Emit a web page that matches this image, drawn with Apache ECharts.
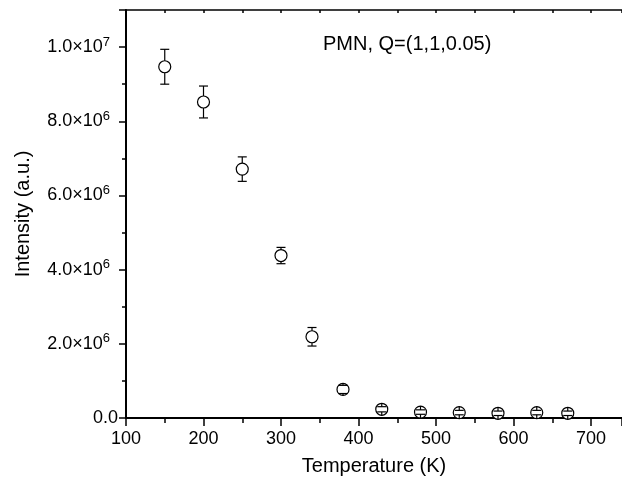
<!DOCTYPE html>
<html>
<head>
<meta charset="utf-8">
<script src="https://cdn.jsdelivr.net/npm/echarts@6/dist/echarts.min.js"></script>
<style>
html,body{margin:0;padding:0;background:#fff;}
#c{width:622px;height:481px;}
</style>
</head>
<body>
<div id="c"></div>
<script>
var temperatures = [150, 200, 250, 300, 340, 380, 430, 480, 530, 580, 630, 670];
var intensities = [9.47e6, 8.52e6, 6.71e6, 4.38e6, 2.19e6, 0.77e6, 0.235e6, 0.16e6, 0.146e6, 0.127e6, 0.146e6, 0.127e6];
var errors = [0.47e6, 0.43e6, 0.33e6, 0.22e6, 0.25e6, 0.11e6, 0.07e6, 0.06e6, 0.06e6, 0.06e6, 0.06e6, 0.06e6];
var titleText = 'PMN, Q=(1,1,0.05)';
var xName = 'Temperature (K)';
var yName = 'Intensity (a.u.)';

var FONT = 'Liberation Sans, Arial, sans-serif';
var R = 6;

var pts = temperatures.map(function (t, i) { return [t, intensities[i], errors[i]]; });

var chart = echarts.init(document.getElementById('c'), null, {renderer: 'canvas'});

function yFmt(v) {
  if (v === 0) return '{b|0.0}';
  var e = Math.floor(Math.log10(v) + 1e-9);
  var m = v / Math.pow(10, e);
  return '{b|' + m.toFixed(1) + '×10}{e|' + e + '}';
}

chart.setOption({
  animation: false,
  backgroundColor: '#fff',
  title: {
    text: titleText,
    left: 318,
    top: 29,
    textStyle: {fontFamily: FONT, fontSize: 20, fontWeight: 'normal', color: '#000'}
  },
  grid: {left: 126, top: 10, right: 0, bottom: 63, containLabel: false, outerBoundsMode: 'none'},
  xAxis: [{
    type: 'value', min: 100, max: 740, interval: 100,
    position: 'bottom',
    name: xName, nameLocation: 'middle', nameGap: 38,
    nameTextStyle: {fontFamily: FONT, fontSize: 20, color: '#000'},
    axisLine: {show: true, onZero: false, lineStyle: {color: '#000', width: 2}},
    axisTick: {show: true, inside: false, length: 8, lineStyle: {color: '#000', width: 1.5}},
    minorTick: {show: true, splitNumber: 2, length: 5, lineStyle: {color: '#000', width: 1.5}},
    axisLabel: {fontFamily: FONT, fontSize: 18, color: '#000', margin: 12,
      formatter: function (v) { return v > 700 ? '' : String(v); }},
    splitLine: {show: false}
  }, {
    type: 'value', min: 100, max: 740, interval: 50,
    position: 'top',
    axisLine: {show: true, onZero: false, lineStyle: {color: '#000', width: 1.5}},
    axisTick: {show: true, inside: true, length: 3, lineStyle: {color: '#000', width: 1.5}},
    axisLabel: {show: false},
    splitLine: {show: false}
  }],
  yAxis: {
    type: 'value', min: 0, max: 1.1e7, interval: 2e6,
    name: yName, nameLocation: 'middle', nameGap: 93, nameRotate: 90,
    nameTextStyle: {fontFamily: FONT, fontSize: 20, color: '#000'},
    axisLine: {show: true, onZero: false, lineStyle: {color: '#000', width: 2}},
    axisTick: {show: true, inside: false, length: 7, lineStyle: {color: '#000', width: 1.5}},
    minorTick: {show: true, splitNumber: 2, length: 4, lineStyle: {color: '#000', width: 1.5}},
    axisLabel: {
      margin: 8,
      formatter: function (v) { return v > 1.0e7 + 1 ? '' : yFmt(v); },
      rich: {
        b: {fontFamily: FONT, fontSize: 18, color: '#000'},
        e: {fontFamily: FONT, fontSize: 13, color: '#000', verticalAlign: 'bottom', padding: [0, 8, 10, 0]}
      }
    },
    splitLine: {show: false}
  },
  series: [{
    type: 'scatter',
    data: pts,
    symbol: 'circle',
    symbolSize: 2 * R,
    itemStyle: {color: '#fff', borderColor: '#000', borderWidth: 1.2, opacity: 1},
    z: 2
  }, {
    type: 'custom',
    data: pts,
    z: 3,
    renderItem: function (params, api) {
      var x = api.value(0), y = api.value(1), err = api.value(2);
      var c = api.coord([x, y]);
      var top = api.coord([x, y + err])[1];
      var bot = api.coord([x, y - err])[1];
      var half = 4.5;
      var style = {stroke: '#000', lineWidth: 1.2};
      var children = [];
      children.push({type: 'line', shape: {x1: c[0], y1: c[1] - R, x2: c[0], y2: top}, style: style});
      children.push({type: 'line', shape: {x1: c[0], y1: c[1] + R, x2: c[0], y2: bot}, style: style});
      children.push({type: 'line', shape: {x1: c[0] - half, y1: top, x2: c[0] + half, y2: top}, style: style});
      children.push({type: 'line', shape: {x1: c[0] - half, y1: bot, x2: c[0] + half, y2: bot}, style: style});
      return {type: 'group', children: children};
    }
  }]
});
</script>
</body>
</html>
